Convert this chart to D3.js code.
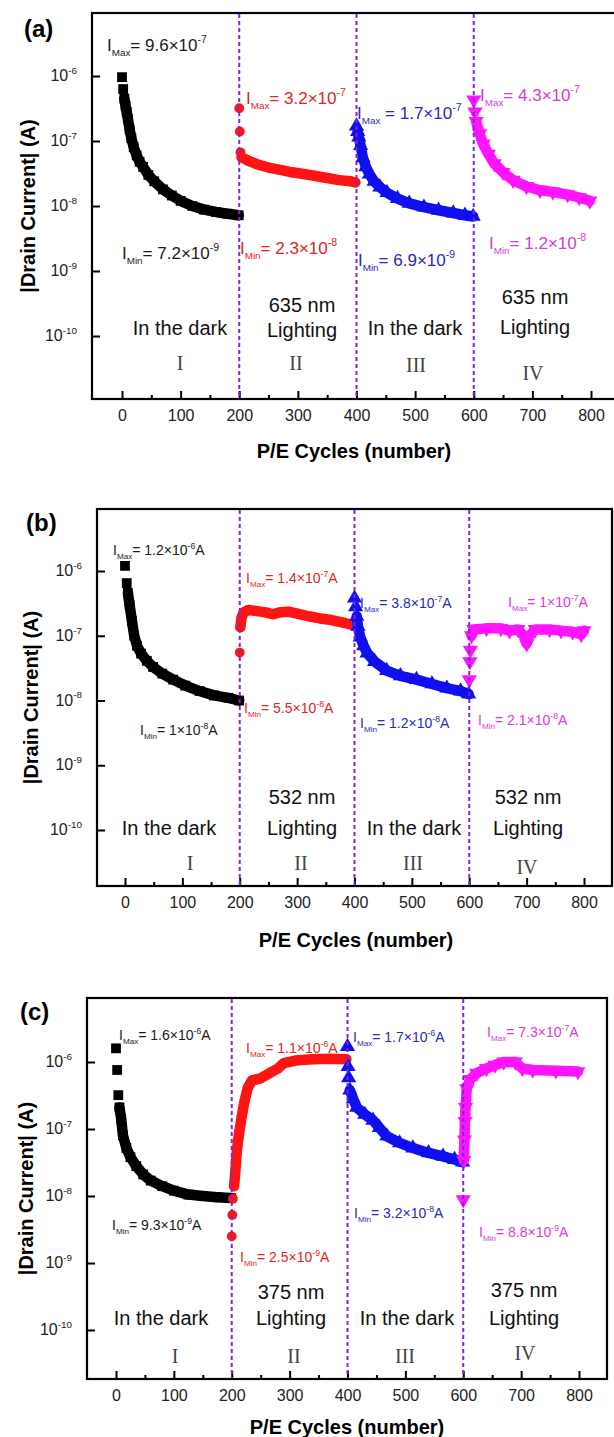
<!DOCTYPE html>
<html>
<head>
<meta charset="utf-8">
<script src="https://cdn.jsdelivr.net/npm/d3@7"></script>
<style>
  body { margin: 0; background: #fff; }
  svg { display: block; font-family: "Liberation Sans", Arial, sans-serif; }
</style>
</head>
<body>
<script>
// ---- data: [cycle, |drain current| in A] ----
var xTicks = [0, 100, 200, 300, 400, 500, 600, 700, 800];
var xMinor = [50, 150, 250, 350, 450, 550, 650, 750];
var yTicks = [1e-10, 1e-9, 1e-8, 1e-7, 1e-6];
var yTickText = ["10^{-10}", "10^{-9}", "10^{-8}", "10^{-7}", "10^{-6}"];
var phaseCuts = [200, 400, 600];
var romans = ["I", "II", "III", "IV"];
var wavelengths = ["635 nm", "532 nm", "375 nm"];

var aBlack = [[0,9.6e-7],[2,6.3e-7],[4,4.5e-7],[6,3.5e-7],[8,2.8e-7],[10,2.2e-7],[13,1.5e-7],[16,1.1e-7],[20,8.0e-8],[25,6.0e-8],[30,4.8e-8],[36,4.0e-8],[45,3.0e-8],[55,2.4e-8],[70,1.8e-8],[85,1.45e-8],[100,1.2e-8],[120,1.0e-8],[140,8.8e-9],[160,8.1e-9],[180,7.6e-9],[199,7.2e-9]];
var aRed = [[200,3.2e-7],[201,1.4e-7],[202,6.7e-8],[204,5.6e-8],[215,5.0e-8],[230,4.4e-8],[250,3.9e-8],[270,3.6e-8],[290,3.3e-8],[310,3.1e-8],[330,2.9e-8],[350,2.7e-8],[370,2.5e-8],[390,2.4e-8],[398,2.3e-8]];
var aBlue = [[400,1.7e-7],[402,1.4e-7],[404,1.15e-7],[407,8.5e-8],[411,5.5e-8],[416,4.0e-8],[422,3.1e-8],[430,2.4e-8],[440,1.95e-8],[452,1.6e-8],[470,1.3e-8],[490,1.1e-8],[515,9.6e-9],[540,8.6e-9],[565,7.8e-9],[585,7.2e-9],[599,6.9e-9]];
var aMagenta = [[600,4.3e-7],[602,2.8e-7],[604,2.0e-7],[610,1.3e-7],[616,9.0e-8],[625,6.3e-8],[635,4.5e-8],[650,3.3e-8],[667,2.5e-8],[690,2.0e-8],[713,1.75e-8],[735,1.65e-8],[760,1.5e-8],[780,1.35e-8],[798,1.2e-8]];

var bBlack = [[0,1.2e-6],[3,6.5e-7],[5,4.6e-7],[8,3.0e-7],[12,1.7e-7],[16,1.0e-7],[21,7.0e-8],[28,5.3e-8],[38,4.1e-8],[49,3.3e-8],[65,2.6e-8],[84,2.1e-8],[105,1.7e-8],[130,1.4e-8],[155,1.2e-8],[180,1.1e-8],[199,1.0e-8]];
var bRed = [[200,5.5e-8],[201,1.35e-7],[203,1.9e-7],[207,2.3e-7],[215,2.5e-7],[230,2.4e-7],[245,2.3e-7],[258,2.15e-7],[270,2.3e-7],[285,2.35e-7],[300,2.2e-7],[320,2.0e-7],[340,1.85e-7],[360,1.75e-7],[380,1.6e-7],[398,1.45e-7]];
var bBlue = [[400,3.8e-7],[402,2.8e-7],[404,2.0e-7],[406,1.4e-7],[410,9.5e-8],[416,7.0e-8],[422,5.4e-8],[435,4.0e-8],[456,2.9e-8],[480,2.4e-8],[508,2.1e-8],[535,1.8e-8],[561,1.55e-8],[585,1.4e-8],[599,1.25e-8]];
var bMagenta = [[600,2.1e-8],[601,4.0e-8],[602,6.0e-8],[604,1.0e-7],[608,1.25e-7],[630,1.3e-7],[655,1.3e-7],[670,1.2e-7],[685,1.25e-7],[695,1.0e-7],[700,7.5e-8],[705,1.0e-7],[715,1.25e-7],[740,1.25e-7],[760,1.2e-7],[780,1.15e-7],[795,1.05e-7],[800,1.2e-7]];

var cBlack = [[0,1.6e-6],[2,7.6e-7],[4,3.2e-7],[6,2.1e-7],[9,1.4e-7],[12,8.0e-8],[18,5.2e-8],[25,3.8e-8],[35,2.8e-8],[47,2.1e-8],[60,1.7e-8],[80,1.4e-8],[100,1.2e-8],[125,1.05e-8],[150,1.0e-8],[175,9.6e-9],[199,9.3e-9]];
var cRed = [[200,2.5e-9],[201,5.2e-9],[202,9.1e-9],[204,1.4e-8],[206,2.2e-8],[209,4.9e-8],[213,9.0e-8],[217,1.5e-7],[222,2.6e-7],[228,4.2e-7],[235,5.3e-7],[250,5.7e-7],[265,6.8e-7],[280,8.0e-7],[290,9.6e-7],[310,1.05e-6],[340,1.1e-6],[370,1.12e-6],[398,1.1e-6]];
var cBlue = [[400,1.7e-6],[401,8.5e-7],[402,5.8e-7],[404,3.8e-7],[410,2.8e-7],[416,2.1e-7],[430,1.65e-7],[444,1.35e-7],[455,1.05e-7],[468,7.8e-8],[490,6.2e-8],[513,5.2e-8],[540,4.4e-8],[565,3.9e-8],[585,3.5e-8],[599,3.2e-8]];
var cMagenta = [[600,8.8e-9],[601,3.4e-8],[602,6.9e-8],[603,1.3e-7],[604,2.1e-7],[606,4.0e-7],[612,5.5e-7],[623,6.8e-7],[640,8.0e-7],[655,9.0e-7],[670,1.0e-6],[690,1.0e-6],[702,8.0e-7],[720,7.6e-7],[760,7.4e-7],[798,7.2e-7]];

var aMaxText = ["I_{Max}= 9.6×10^{-7}", "I_{Max}= 3.2×10^{-7}", "I_{Max} = 1.7×10^{-7}", "I_{Max}= 4.3×10^{-7}"];
var aMinText = ["I_{Min}= 7.2×10^{-9}", "I_{Min}= 2.3×10^{-8}", "I_{Min}= 6.9×10^{-9}", "I_{Min}= 1.2×10^{-8}"];
var bMaxText = ["I_{Max}= 1.2×10^{-6}A", "I_{Max}= 1.4×10^{-7}A", "I_{Max}= 3.8×10^{-7}A", "I_{Max}= 1×10^{-7}A"];
var bMinText = ["I_{Min}= 1×10^{-8}A", "I_{Min}= 5.5×10^{-8}A", "I_{Min}= 1.2×10^{-8}A", "I_{Min}= 2.1×10^{-8}A"];
var cMaxText = ["I_{Max}= 1.6×10^{-6}A", "I_{Max}= 1.1×10^{-6}A", "I_{Max}= 1.7×10^{-6}A", "I_{Max}= 7.3×10^{-7}A"];
var cMinText = ["I_{Min}= 9.3×10^{-9}A", "I_{Min}= 2.5×10^{-9}A", "I_{Min}= 3.2×10^{-8}A", "I_{Min}= 8.8×10^{-9}A"];

// ---- look ----
var markColors = ["#000000", "#ff1414", "#1010ee", "#ff14ff"];
var textColors = ["#1a1a1a", "#d92626", "#2a2ab8", "#d43cd4"];
var dashColor = "#7d26d4";
var symbols = [d3.symbolSquare, d3.symbolCircle, d3.symbolTriangle, d3.symbolTriangle];
var symSizes = [96, 76, 100, 100];

var panels = [
  { tag: "(a)", tagX: 24, tagY: 37, left: 92, right: 616, top: 13, bottom: 399,
    x0: 122, x800: 591, y6: 76, y10: 336,
    series: [aBlack, aRed, aBlue, aMagenta], lineStart: [2, 3, 1, 2],
    maxText: aMaxText, minText: aMinText, labelSize: 17,
    maxPos: [[107,51],[246,104],[357,119],[480,101]],
    minPos: [[122,259],[240,254],[358,266],[489,249]],
    wave: wavelengths[0], darkPos: [[180,335],[415,335]], lightPos: [[302,312,337],[535,304,334]],
    romanPos: [[180,370],[296,370],[416,372],[533,380]],
    yTitleX: 28, xTitleX: 354, xTitleY: 458, tickY: 421 },
  { tag: "(b)", tagX: 26, tagY: 531, left: 97, right: 612, top: 509, bottom: 886,
    x0: 125, x800: 584, y6: 571, y10: 830,
    series: [bBlack, bRed, bBlue, bMagenta], lineStart: [2, 1, 2, 3],
    maxText: bMaxText, minText: bMinText, labelSize: 14,
    maxPos: [[113,555],[246,583],[360,608],[508,607]],
    minPos: [[140,735],[244,713],[360,728],[478,725]],
    wave: wavelengths[1], darkPos: [[169,835],[414,835]], lightPos: [[302,804,835],[528,804,835]],
    romanPos: [[190,870],[301,870],[413,870],[527,874]],
    yTitleX: 31, xTitleX: 356, xTitleY: 947, tickY: 908 },
  { tag: "(c)", tagX: 20, tagY: 1020, left: 87, right: 607, top: 998, bottom: 1379,
    x0: 116, x800: 579, y6: 1062, y10: 1330,
    series: [cBlack, cRed, cBlue, cMagenta], lineStart: [3, 3, 3, 1],
    maxText: cMaxText, minText: cMinText, labelSize: 14,
    maxPos: [[119,1040],[246,1053],[353,1042],[487,1037]],
    minPos: [[112,1230],[240,1262],[354,1218],[479,1237]],
    wave: wavelengths[2], darkPos: [[161,1325],[407,1325]], lightPos: [[291,1299,1325],[524,1297,1325]],
    romanPos: [[175,1363],[294,1363],[405,1363],[525,1360]],
    yTitleX: 26, xTitleX: 347, xTitleY: 1434, tickY: 1401 }
];

var svg = d3.select("body").append("svg")
  .attr("width", 614)
  .attr("height", 1437);

// writes "I_{Max}= 9.6×10^{-7}" style strings as tspans
function rich(sel, str, size) {
  var parts = str.split(/(_\{[^}]*\}|\^\{[^}]*\})/).filter(function(s) { return s.length; });
  var cur = 0;
  parts.forEach(function(s) {
    var fs = size, off = 0, t = s;
    if (s[0] == "_") { t = s.slice(2, -1); fs = size * 0.58; off = size * 0.32; }
    else if (s[0] == "^") { t = s.slice(2, -1); fs = size * 0.62; off = -size * 0.45; }
    sel.append("tspan").attr("dy", (off - cur).toFixed(2)).attr("font-size", fs).text(t);
    cur = off;
  });
  return sel;
}

panels.forEach(function(p) {
  var g = svg.append("g");
  var x = d3.scaleLinear().domain([0, 800]).range([p.x0, p.x800]);
  var y = d3.scaleLog().domain([1e-10, 1e-6]).range([p.y10, p.y6]);

  // inward ticks
  var xa = g.append("g").attr("transform", "translate(0," + p.bottom + ")")
    .call(d3.axisBottom(x).tickValues(xTicks).tickSize(-8).tickFormat(d3.format("d")));
  xa.select(".domain").remove();
  xa.selectAll("line").attr("stroke-width", 2);
  xa.selectAll("text").attr("y", p.tickY - p.bottom).attr("dy", null)
    .attr("font-size", 16).attr("font-family", "Liberation Sans, Arial, sans-serif").attr("fill", "#222");

  var xm = g.append("g").attr("transform", "translate(0," + p.bottom + ")")
    .call(d3.axisBottom(x).tickValues(xMinor).tickSize(-4).tickFormat(""));
  xm.select(".domain").remove();
  xm.selectAll("line").attr("stroke-width", 2);

  var ya = g.append("g").attr("transform", "translate(" + p.left + ",0)")
    .call(d3.axisLeft(y).tickValues(yTicks).tickSize(-8).tickFormat(""));
  ya.select(".domain").remove();
  ya.selectAll("line").attr("stroke-width", 2);

  yTicks.forEach(function(v, i) {
    var t = g.append("text")
      .attr("x", p.left - 15)
      .attr("y", y(v) + 5)
      .attr("text-anchor", "end")
      .attr("fill", "#222");
    rich(t, yTickText[i], 16);
  });

  // frame
  g.append("rect")
    .attr("x", p.left).attr("y", p.top)
    .attr("width", p.right - p.left).attr("height", p.bottom - p.top)
    .attr("fill", "none").attr("stroke", "#000").attr("stroke-width", 2.2);

  // series: thick band through readings, then markers
  var line = d3.line().x(function(d) { return x(d[0]); }).y(function(d) { return y(d[1]); });
  p.series.forEach(function(data, k) {
    g.append("path")
      .datum(data.slice(p.lineStart[k]))
      .attr("d", line)
      .attr("fill", "none")
      .attr("stroke", markColors[k])
      .attr("stroke-width", 10.5)
      .attr("stroke-linejoin", "round")
      .attr("stroke-linecap", "round");
    g.selectAll(null)
      .data(data)
      .enter()
      .append("path")
      .attr("d", d3.symbol().type(symbols[k]).size(symSizes[k]))
      .attr("transform", function(d) {
        return "translate(" + x(d[0]) + "," + y(d[1]) + ")" + (k == 3 ? " rotate(180)" : "");
      })
      .attr("fill", markColors[k]);
  });

  // phase boundaries
  g.selectAll(null)
    .data(phaseCuts)
    .enter()
    .append("line")
    .attr("x1", function(d) { return x(d); })
    .attr("x2", function(d) { return x(d); })
    .attr("y1", p.top + 1)
    .attr("y2", p.bottom - 1)
    .attr("stroke", dashColor)
    .attr("stroke-width", 2)
    .attr("stroke-dasharray", "4,3");

  // I max / I min labels
  p.maxText.forEach(function(s, k) {
    var t = g.append("text").attr("x", p.maxPos[k][0]).attr("y", p.maxPos[k][1]).attr("fill", textColors[k]);
    rich(t, s, p.labelSize);
  });
  p.minText.forEach(function(s, k) {
    var t = g.append("text").attr("x", p.minPos[k][0]).attr("y", p.minPos[k][1]).attr("fill", textColors[k]);
    rich(t, s, p.labelSize);
  });

  // condition labels
  p.darkPos.forEach(function(d) {
    g.append("text").attr("x", d[0]).attr("y", d[1]).attr("text-anchor", "middle")
      .attr("font-size", 20).attr("fill", "#111").text("In the dark");
  });
  p.lightPos.forEach(function(d) {
    g.append("text").attr("x", d[0]).attr("y", d[1]).attr("text-anchor", "middle")
      .attr("font-size", 20).attr("fill", "#111").text(p.wave);
    g.append("text").attr("x", d[0]).attr("y", d[2]).attr("text-anchor", "middle")
      .attr("font-size", 20).attr("fill", "#111").text("Lighting");
  });
  p.romanPos.forEach(function(d, k) {
    g.append("text").attr("x", d[0]).attr("y", d[1]).attr("text-anchor", "middle")
      .attr("font-family", "Liberation Serif, Times New Roman, serif")
      .attr("font-size", 20).attr("fill", "#444").text(romans[k]);
  });

  // titles
  g.append("text").attr("x", p.tagX).attr("y", p.tagY)
    .attr("font-size", 24).attr("font-weight", "bold").text(p.tag);
  g.append("text").attr("x", p.xTitleX).attr("y", p.xTitleY).attr("text-anchor", "middle")
    .attr("font-size", 20).attr("font-weight", "bold").text("P/E Cycles (number)");
  g.append("text")
    .attr("transform", "translate(" + p.yTitleX + "," + ((p.top + p.bottom) / 2) + ") rotate(-90)")
    .attr("text-anchor", "middle").attr("dy", "0.35em")
    .attr("font-size", 20).attr("font-weight", "bold").text("|Drain Current| (A)");
});
</script>
</body>
</html>
